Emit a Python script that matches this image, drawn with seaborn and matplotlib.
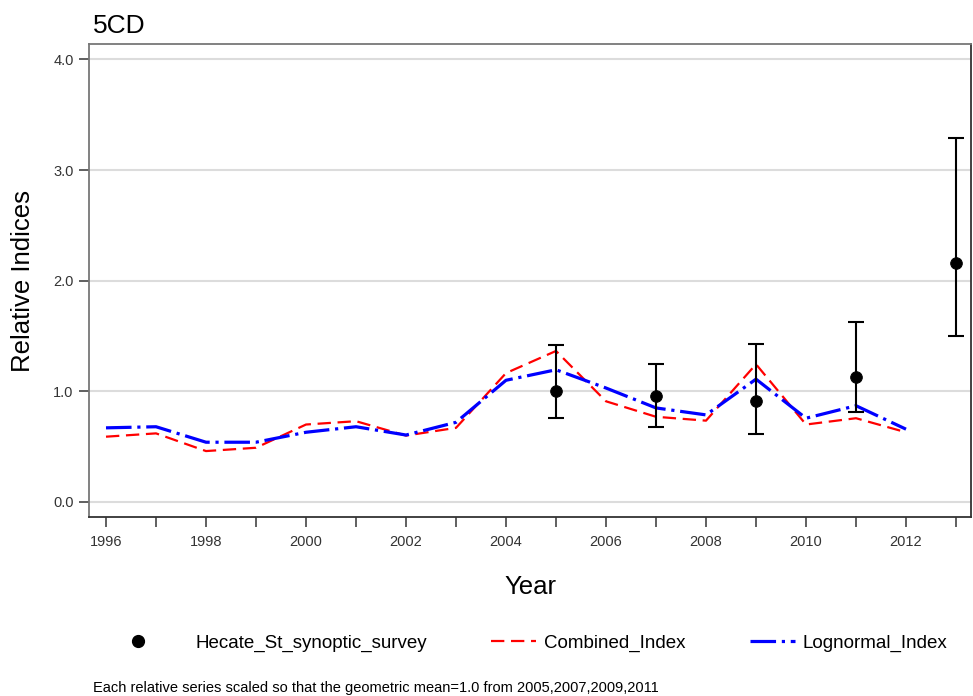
import numpy as np
import pandas as pd
import matplotlib
matplotlib.use("Agg")
import matplotlib.pyplot as plt
from matplotlib.lines import Line2D
from matplotlib.legend_handler import HandlerLine2D
import seaborn as sns

# Datos
years = list(range(1996, 2013))
combined_index = [0.59, 0.62, 0.46, 0.49, 0.70, 0.73, 0.60, 0.67, 1.165, 1.365,
                  0.91, 0.77, 0.735, 1.245, 0.70, 0.757, 0.63]
lognormal_index = [0.67, 0.68, 0.54, 0.54, 0.63, 0.68, 0.605, 0.72, 1.10, 1.195,
                   1.03, 0.85, 0.787, 1.11, 0.757, 0.87, 0.658]

survey_years = [2005, 2007, 2009, 2011, 2013]
survey_index = [1.005, 0.96, 0.914, 1.13, 2.163]
survey_low = [0.757, 0.676, 0.61, 0.815, 1.502]
survey_high = [1.415, 1.25, 1.424, 1.626, 3.294]

df = pd.DataFrame({"year": years, "Combined_Index": combined_index,
                   "Lognormal_Index": lognormal_index})

sns.set_theme(style="white")
plt.rcParams["font.family"] = ["Liberation Sans", "DejaVu Sans"]
plt.rcParams["text.color"] = "black"
plt.rcParams["axes.labelcolor"] = "black"

fig = plt.figure(figsize=(9.73, 6.96), dpi=100)
ax = fig.add_axes([89/973, 1 - 517/696, 882/973, 473/696])

# Lineas de indices
sns.lineplot(data=df, x="year", y="Combined_Index", color="red", linewidth=1.6,
             linestyle=(0, (6, 3)), ax=ax, zorder=3)
sns.lineplot(data=df, x="year", y="Lognormal_Index", color="blue", linewidth=2.3,
             linestyle=(0, (8, 1.8, 1, 1.8)), ax=ax, zorder=4)

# Puntos del survey con barras de error
s_idx = np.array(survey_index)
yerr = [s_idx - np.array(survey_low), np.array(survey_high) - s_idx]
ax.errorbar(survey_years, survey_index, yerr=yerr, fmt="none", ecolor="black",
            elinewidth=1.5, capsize=6, capthick=1.5, zorder=5)
sns.scatterplot(x=survey_years, y=survey_index, color="black", s=70,
                edgecolor="black", ax=ax, zorder=6)

if ax.get_legend() is not None:
    ax.get_legend().remove()

ax.set_xlim(1995.66, 2013.3)
ax.set_ylim(-0.136, 4.14)
ax.set_yticks([0, 1, 2, 3, 4])
ax.set_yticklabels(["0.0", "1.0", "2.0", "3.0", "4.0"])
ax.set_xticks(range(1996, 2014))
ax.set_xticklabels([str(y) if y % 2 == 0 else "" for y in range(1996, 2014)])
ax.yaxis.grid(True, color="#dcdcdc", linewidth=1.5)
ax.set_axisbelow(True)

ax.tick_params(axis="both", which="major", direction="out", length=7, width=1.2,
               color="#444444", labelcolor="#333333", labelsize=10.5,
               bottom=True, left=True)
ax.tick_params(axis="x", pad=6)
ax.tick_params(axis="y", pad=4)

for side in ["top", "left"]:
    ax.spines[side].set_color("#777777")
    ax.spines[side].set_linewidth(1.3)
for side in ["bottom", "right"]:
    ax.spines[side].set_color("#333333")
    ax.spines[side].set_linewidth(1.3)

ax.set_xlabel("Year", fontsize=18.5)
ax.set_ylabel("Relative Indices", fontsize=18.5)
ax.xaxis.set_label_coords(0.5, (517 - 575) / 473)
ax.yaxis.set_label_coords((35 - 89) / 882, 0.5)

fig.text(93/973, 1 - 33/696, "5CD", fontsize=19, va="baseline", ha="left")


# el punto de la leyenda va a la izquierda de su caja
class MarcadorIzq(HandlerLine2D):
    def get_xdata(self, legend, xdescent, ydescent, width, height, fontsize):
        m = -xdescent - 3.0
        return np.array([m - 0.5, m + 0.5]), np.array([m])


h_survey = Line2D([], [], marker="o", color="black", linestyle="none", markersize=8.5)
h_comb = Line2D([], [], color="red", linewidth=1.6, linestyle=(0, (6, 3)))
h_logn = Line2D([], [], color="blue", linewidth=2.3, linestyle=(0, (8, 1.8, 1, 1.8)))

fig.legend([h_survey, h_comb, h_logn],
           ["Hecate_St_synoptic_survey", "Combined_Index", "Lognormal_Index"],
           loc="center", bbox_to_anchor=(0.56, 1 - 643/696), ncol=3, frameon=False,
           fontsize=13.5, handlelength=2.4, handletextpad=0.45, columnspacing=3.4,
           handler_map={h_survey: MarcadorIzq()})

fig.text(93/973, 1 - 688/696,
         "Each relative series scaled so that the geometric mean=1.0 from 2005,2007,2009,2011",
         fontsize=10.5, va="center", ha="left")

fig.savefig("out.png", dpi=100)
